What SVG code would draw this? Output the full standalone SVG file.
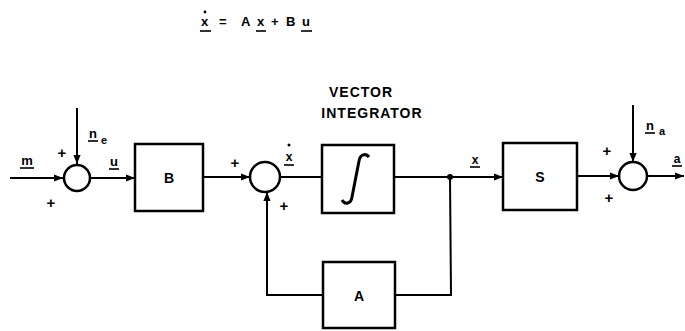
<svg xmlns="http://www.w3.org/2000/svg" width="685" height="331" viewBox="0 0 685 331">
<style>
.ln{stroke:#000;stroke-width:2;fill:none}
.bx{stroke:#000;stroke-width:2.5;fill:#fff}
.t{font-family:"Liberation Sans",Arial,sans-serif;font-weight:bold;fill:#000}
.lb{font-size:13px}
.sg{font-size:15px}
.ul{stroke:#000;stroke-width:1.6}
</style>
<defs>
<marker id="ar" viewBox="0 0 10 10" refX="10" refY="5" markerWidth="4.5" markerHeight="4.5" orient="auto" markerUnits="strokeWidth">
<path d="M0,1 L10,5 L0,9 Z" fill="#000"/>
</marker>
</defs>
<g id="equation">
<text class="t" x="201" y="26" font-size="13">x</text>
<circle cx="205" cy="12" r="1.4" fill="#000"/>
<line class="ul" x1="200" y1="31" x2="211" y2="31"/>
<text class="t" x="219" y="26" font-size="13">=</text>
<text class="t" x="241" y="26" font-size="13">A</text>
<text class="t" x="257" y="26" font-size="13">x</text>
<line class="ul" x1="256" y1="31" x2="266" y2="31"/>
<text class="t" x="271" y="26" font-size="13">+</text>
<text class="t" x="286" y="26" font-size="13">B</text>
<text class="t" x="302" y="26" font-size="13">u</text>
<line class="ul" x1="301" y1="31" x2="312" y2="31"/>
</g>
<g id="connectors">
<line class="ln" x1="10" y1="178" x2="63" y2="178" marker-end="url(#ar)"/>
<line class="ln" x1="77" y1="108" x2="77" y2="164" marker-end="url(#ar)"/>
<line class="ln" x1="90" y1="178" x2="135" y2="178" marker-end="url(#ar)"/>
<line class="ln" x1="203" y1="177" x2="250" y2="177" marker-end="url(#ar)"/>
<line class="ln" x1="280" y1="177" x2="322" y2="177"/>
<line class="ln" x1="394" y1="177" x2="503" y2="177" marker-end="url(#ar)"/>
<circle cx="450" cy="177" r="3" fill="#000"/>
<line class="ln" x1="577" y1="176" x2="619" y2="176" marker-end="url(#ar)"/>
<line class="ln" x1="633" y1="105" x2="633" y2="162" marker-end="url(#ar)"/>
<line class="ln" x1="647" y1="176" x2="684" y2="176" marker-end="url(#ar)"/>
<polyline class="ln" points="450,177 451,295 395,295"/>
<polyline class="ln" points="323,295 267,295 267,192" marker-end="url(#ar)"/>
</g>
<g id="sum1">
<circle cx="77" cy="178" r="13" stroke="#000" stroke-width="2.5" fill="#fff"/>
<text class="t sg" x="62" y="158" text-anchor="middle">+</text>
<text class="t sg" x="51" y="208" text-anchor="middle">+</text>
</g>
<g id="labels">
<text class="t lb" x="27" y="165" text-anchor="middle">m</text>
<line class="ul" x1="20" y1="168" x2="34" y2="168"/>
<text class="t lb" x="93" y="138" text-anchor="middle">n</text>
<line class="ul" x1="88" y1="141" x2="98" y2="141"/>
<text class="t" x="104" y="144" font-size="11" text-anchor="middle">e</text>
<text class="t lb" x="114" y="166" text-anchor="middle">u</text>
<line class="ul" x1="109" y1="169" x2="119" y2="169"/>
<text class="t" x="289" y="161" font-size="12" text-anchor="middle">x</text>
<circle cx="289" cy="145" r="1.5" fill="#000"/>
<line class="ul" x1="284" y1="165" x2="294" y2="165"/>
<text class="t" x="475" y="164" font-size="12" text-anchor="middle">x</text>
<line class="ul" x1="470" y1="167" x2="480" y2="167"/>
<text class="t lb" x="650" y="130" text-anchor="middle">n</text>
<line class="ul" x1="645" y1="133" x2="655" y2="133"/>
<text class="t" x="662" y="135" font-size="11" text-anchor="middle">a</text>
<text class="t" x="677" y="163" font-size="12" text-anchor="middle">a</text>
<line class="ul" x1="672" y1="166" x2="682" y2="166"/>
</g>
<g id="B">
<rect class="bx" x="135" y="144" width="68" height="67"/>
<text class="t" x="169" y="183" font-size="14" text-anchor="middle">B</text>
</g>
<g id="sum2">
<circle cx="265" cy="177" r="15" stroke="#000" stroke-width="2.5" fill="#fff"/>
<text class="t sg" x="235" y="168" text-anchor="middle">+</text>
<text class="t sg" x="284" y="211" text-anchor="middle">+</text>
</g>
<g id="integrator">
<text class="t" x="361" y="97" font-size="14" text-anchor="middle" letter-spacing="1">VECTOR</text>
<text class="t" x="372" y="118" font-size="14" text-anchor="middle" letter-spacing="1">INTEGRATOR</text>
<rect class="bx" x="322" y="145" width="72" height="68"/>
<path d="M342,200 C345,205 351,204 352,197 L359,161 C360,154 366,153 369,157" stroke="#000" stroke-width="3" fill="none"/>
</g>
<g id="S">
<rect class="bx" x="503" y="143" width="74" height="67"/>
<text class="t" x="540" y="182" font-size="14" text-anchor="middle">S</text>
</g>
<g id="sum3">
<circle cx="633" cy="176" r="14" stroke="#000" stroke-width="2.5" fill="#fff"/>
<text class="t sg" x="607" y="156" text-anchor="middle">+</text>
<text class="t sg" x="609" y="203" text-anchor="middle">+</text>
</g>
<g id="A">
<rect class="bx" x="323" y="262" width="72" height="66"/>
<text class="t" x="359" y="301" font-size="14" text-anchor="middle">A</text>
</g>
</svg>
